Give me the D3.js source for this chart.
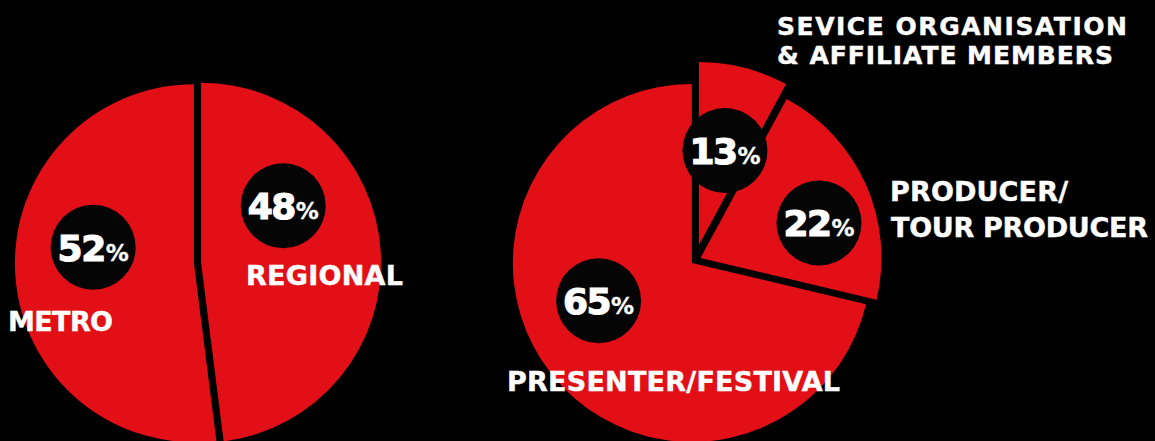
<!DOCTYPE html>
<html>
<head>
<meta charset="utf-8">
<script src="https://cdn.jsdelivr.net/npm/d3@7"></script>
<style>
  html, body { margin: 0; padding: 0; background: #000; }
  svg { display: block; }
</style>
</head>
<body>
<div id="chart"></div>
<script>
// ---------- DATA ----------
// Left pie: location
const leftCategories = ["REGIONAL", "METRO"];
const leftValues = [48, 52];               // printed percentages (also slice sizes)

// Right pie: member type
const rightCategories = ["SEVICE ORGANISATION & AFFILIATE MEMBERS", "PRODUCER/ TOUR PRODUCER", "PRESENTER/FESTIVAL"];
const rightValues = [13, 22, 65];          // printed percentages
const rightDrawnShares = [7.9, 20.8, 71.3];

// ---------- LAYOUT ----------
const W = 1155, H = 441;
const RED = "#e30f16";

const svg = d3.select("#chart").append("svg")
  .attr("width", W).attr("height", H)
  .attr("viewBox", `0 0 ${W} ${H}`);
svg.append("rect").attr("width", W).attr("height", H).attr("fill", "#000");

const pie = d3.pie().sort(null).value(d => d.v);

// per-slice geometry: pie center, explode offset, radius, label-circle polar placement
const leftLayout = {
  center: [197.5, 263],
  slices: [
    { explode: 3.6, r: 180, labelAngle: 55.2, labelDist: 100 },   // REGIONAL
    { explode: 3.6, r: 179, labelAngle: 279, labelDist: 102 }     // METRO
  ]
};
const rightLayout = {
  center: [695, 260.5],
  slices: [
    { explode: 16, r: 183, labelAngle: 15.4, labelDist: 98 },     // 13%
    { explode: 6, r: 181, labelAngle: 73.5, labelDist: 123.6 },   // 22%
    { explode: 4, r: 179, labelAngle: 248, labelDist: 100.6 }     // 65%
  ]
};

function drawPie(sizes, printed, layout) {
  const arcs = pie(sizes.map((v, i) => ({ v, i })));
  const g = svg.append("g").attr("transform", `translate(${layout.center})`);
  const rad = Math.PI / 180;

  arcs.forEach((a, i) => {
    const s = layout.slices[i];
    const mid = (a.startAngle + a.endAngle) / 2;
    const [ox, oy] = d3.pointRadial(mid, s.explode);
    const arc = d3.arc().innerRadius(0).outerRadius(s.r);
    const sg = g.append("g").attr("transform", `translate(${ox},${oy})`);
    sg.append("path").attr("d", arc(a)).attr("fill", RED);
    s._offset = [ox, oy];
  });

  // label circles on top
  arcs.forEach((a, i) => {
    const s = layout.slices[i];
    const [px, py] = d3.pointRadial(s.labelAngle * rad, s.labelDist);
    const lg = g.append("g").attr("transform", `translate(${s._offset[0] + px},${s._offset[1] + py})`);
    lg.append("circle").attr("r", 42.5).attr("fill", "#050505");
    const t = lg.append("text")
      .attr("text-anchor", "middle")
      .attr("y", 13.5)
      .attr("fill", "#fff")
      .attr("stroke", "#fff")
      .attr("stroke-width", 1.2)
      .attr("font-family", "'DejaVu Sans', sans-serif")
      .attr("font-weight", "bold");
    t.append("tspan").attr("font-size", 36).attr("letter-spacing", -1.5).text(printed[i]);
    t.append("tspan").attr("font-size", 23).attr("stroke-width", 0.3).attr("dx", 1).text("%");
  });
}

drawPie(leftValues, leftValues, leftLayout);
drawPie(rightDrawnShares, rightValues, rightLayout);

// ---------- CATEGORY LABELS ----------
const labelLines = [
  { text: "METRO", x: 8, y: 331, w: 105, size: 27 },
  { text: "REGIONAL", x: 246, y: 285, w: 157, size: 27 },
  { text: "PRESENTER/FESTIVAL", x: 507, y: 391, w: 333, size: 27 },
  { text: "SEVICE ORGANISATION", x: 777, y: 34.5, w: 350, size: 25 },
  { text: "& AFFILIATE MEMBERS", x: 777, y: 64, w: 336, size: 25 },
  { text: "PRODUCER/", x: 890, y: 201, w: 178, size: 27 },
  { text: "TOUR PRODUCER", x: 891, y: 237, w: 257, size: 27 }
];
svg.append("g").selectAll("text").data(labelLines).join("text")
  .attr("x", d => d.x).attr("y", d => d.y)
  .attr("textLength", d => d.w)
  .attr("lengthAdjust", "spacing")
  .attr("fill", "#fff")
  .attr("stroke", "#fff")
  .attr("stroke-width", 0.45)
  .attr("font-family", "'DejaVu Sans', sans-serif")
  .attr("font-weight", "bold")
  .attr("font-size", d => d.size)
  .text(d => d.text);
</script>
</body>
</html>
